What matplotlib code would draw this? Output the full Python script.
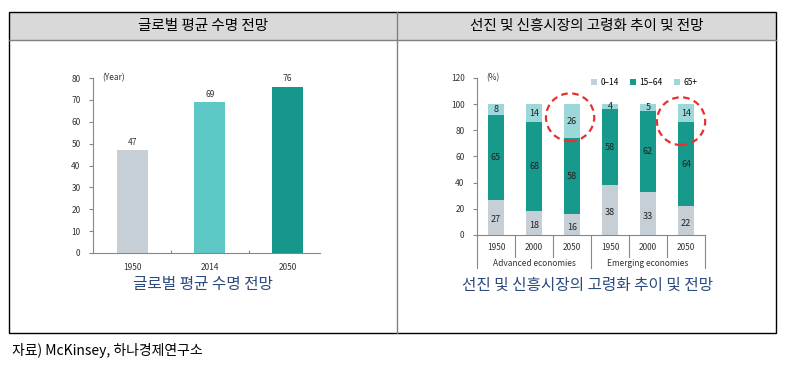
import matplotlib
matplotlib.use("Agg")
import matplotlib.pyplot as plt
from matplotlib.patches import Rectangle, Ellipse, Patch
from matplotlib.lines import Line2D

plt.rcParams['font.family'] = ['Noto Sans CJK KR', 'DejaVu Sans']

# data
life_years = ['1950', '2014', '2050']
life_values = [47, 69, 76]
life_colors = ['#c6cfd6', '#5ec8c6', '#17978b']

age_years = ['1950', '2000', '2050', '1950', '2000', '2050']
age_groups = ['Advanced economies', 'Emerging economies']
age_0_14 = [27, 18, 16, 38, 33, 22]
age_15_64 = [65, 68, 58, 58, 62, 64]
age_65 = [8, 14, 26, 4, 5, 14]
age_labels = ['0\u201314', '15\u201364', '65+']
age_colors = ['#c6cfd6', '#17998c', '#9cd7da']

W, H = 786, 373
fig = plt.figure(figsize=(W / 100, H / 100), dpi=100)


def px_rect(left, top, right, bottom):
    return [left / W, 1 - bottom / H, (right - left) / W, (bottom - top) / H]


# table frame
bg = fig.add_axes([0, 0, 1, 1])
bg.set_xlim(0, W)
bg.set_ylim(H, 0)
bg.axis('off')
bg.add_patch(Rectangle((9, 12), 767, 28, facecolor='#d9d9d9', edgecolor='none'))
bg.plot([9, 776], [40, 40], color='#808080', lw=1)
bg.plot([397, 397], [12, 333], color='#808080', lw=1)
bg.add_patch(Rectangle((9, 12), 767, 321, facecolor='none', edgecolor='black', lw=1))
bg.text(203, 26, '글로벌 평균 수명 전망', ha='center', va='center', fontsize=10.5)
bg.text(587, 26, '선진 및 신흥시장의 고령화 추이 및 전망', ha='center', va='center', fontsize=10.5)
bg.text(203, 285, '글로벌 평균 수명 전망', ha='center', va='center', fontsize=11.3, color='#2b4a80')
bg.text(587, 285, '선진 및 신흥시장의 고령화 추이 및 전망', ha='center', va='center', fontsize=11.3, color='#2b4a80')
bg.text(12, 350, '자료) McKinsey, 하나경제연구소', ha='left', va='center', fontsize=10)

small = 6
tick_kw = dict(labelsize=small, labelcolor='#333333', color='#888888', width=0.8)

# left chart: life expectancy
ax1 = fig.add_axes(px_rect(93, 78, 320, 253))
x1 = range(len(life_years))
ax1.bar(x1, life_values, width=0.4, color=life_colors)
for i, v in enumerate(life_values):
    ax1.text(i, v + 1.5, str(v), ha='center', va='bottom', fontsize=small, color='#333333', fontweight='medium')
ax1.set_xlim(-0.51, 2.42)
ax1.set_ylim(0, 80)
ax1.set_yticks(range(0, 81, 10))
ax1.set_xticks([0.5, 1.5], minor=False)
ax1.set_xticks(list(x1), life_years, minor=True)
ax1.tick_params(axis='x', which='major', length=2, labelbottom=False, direction='in', **tick_kw)
ax1.tick_params(axis='x', which='minor', length=0, pad=7, **tick_kw)
ax1.tick_params(axis='y', length=3, pad=6, **tick_kw)
for lab in ax1.get_xticklabels(minor=True) + ax1.get_yticklabels():
    lab.set_fontweight('medium')
for s in ['top', 'right']:
    ax1.spines[s].set_visible(False)
for s in ['left', 'bottom']:
    ax1.spines[s].set_color('#888888')
    ax1.spines[s].set_linewidth(0.8)
ax1.text(0.04, 1.0, '(Year)', transform=ax1.transAxes, ha='left', va='center', fontsize=small, color='#333333')

# right chart: age structure
ax2 = fig.add_axes(px_rect(477, 78, 705, 235))
x2 = list(range(len(age_years)))
bottom2 = [a + b for a, b in zip(age_0_14, age_15_64)]
ax2.bar(x2, age_0_14, width=0.42, color=age_colors[0], label=age_labels[0])
ax2.bar(x2, age_15_64, width=0.42, bottom=age_0_14, color=age_colors[1], label=age_labels[1])
ax2.bar(x2, age_65, width=0.42, bottom=bottom2, color=age_colors[2], label=age_labels[2])
val_kw = dict(ha='center', va='center', fontsize=6.5, color='#222222', fontweight='medium')
for i in x2:
    ax2.text(i, age_0_14[i] / 2 - 2, str(age_0_14[i]), **val_kw)
    ax2.text(i, age_0_14[i] + age_15_64[i] / 2, str(age_15_64[i]), **val_kw)
    ax2.text(i, bottom2[i] + age_65[i] / 2, str(age_65[i]), **val_kw)
ax2.set_xlim(-0.5, 5.5)
ax2.set_ylim(0, 120)
ax2.set_yticks(range(0, 121, 20))
ax2.set_xticks(x2, age_years)
ax2.tick_params(axis='x', length=0, pad=6, **tick_kw)
ax2.tick_params(axis='y', length=3, pad=6, **tick_kw)
for lab in ax2.get_xticklabels() + ax2.get_yticklabels():
    lab.set_fontweight('medium')
for s in ['top', 'right']:
    ax2.spines[s].set_visible(False)
for s in ['left', 'bottom']:
    ax2.spines[s].set_color('#888888')
    ax2.spines[s].set_linewidth(0.8)
ax2.text(0.04, 1.0, '(%)', transform=ax2.transAxes, ha='left', va='center', fontsize=small, color='#333333')

# category dividers under the axis
xt = ax2.get_xaxis_transform()
for k in range(len(age_years) + 1):
    edge = k - 0.5
    low = -0.21 if k % 3 == 0 else -0.14
    ax2.add_line(Line2D([edge, edge], [0, low], transform=xt, color='#888888', lw=0.8, clip_on=False))
for g, name in enumerate(age_groups):
    ax2.text(1 + 3 * g, -0.18, name, transform=xt, ha='center', va='center', fontsize=small, color='#333333')

handles = [Patch(facecolor=c, edgecolor='none') for c in age_colors]
ax2.legend(handles, age_labels, loc='center right', bbox_to_anchor=(1.0, 0.97), ncol=3, frameon=False,
           fontsize=small, handlelength=0.7, handleheight=0.7, handletextpad=0.4, columnspacing=1.4)

# red dashed circles
for cx, cy in [(1.95, 90), (4.87, 87)]:
    ax2.add_patch(Ellipse((cx, cy), 1.27, 36.5, facecolor='none', edgecolor='#e8312f', lw=1.6,
                          linestyle=(0, (3, 2)), clip_on=False, zorder=5))

fig.savefig('out.png', dpi=100)
